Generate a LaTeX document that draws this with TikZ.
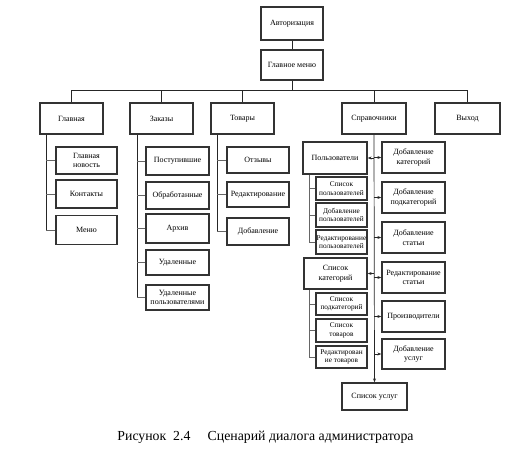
\documentclass[tikz,border=0pt]{standalone}
\usepackage{fontspec}
\setmainfont{Liberation Serif}
\usetikzlibrary{arrows.meta}
\begin{document}
\begin{tikzpicture}[x=1pt,y=-1pt,
  topbox/.style={draw=black!80, line width=1.8pt, fill=white, inner sep=1pt,
    align=center, font=\fontsize{8}{9.5}\selectfont},
  subbox/.style={draw=black!80, line width=1.3pt, fill=white, inner sep=0.5pt,
    align=center, font=\fontsize{8}{9.5}\selectfont},
  smallbox/.style={draw=black!80, line width=1.3pt, fill=white, inner sep=0pt,
    align=center, font=\fontsize{7.3}{8.5}\selectfont},
  link/.style={draw=black!85, line width=0.8pt},
  stub/.style={draw=black!60, line width=0.7pt},
  arr/.style={draw=black!85, line width=0.7pt, -{Stealth[length=4pt,width=3pt]}}
]
\useasboundingbox (0,0) rectangle (511,460);
\newcommand{\bx}[6]{\node[#1, minimum width=#4pt, minimum height=#5pt] (#2) at (#3) {#6};}

% top levels
\bx{topbox}{auth}{292,23.5}{62}{33}{Авторизация}
\bx{topbox}{menu}{292,65}{62}{30}{Главное меню}
\bx{topbox}{glav}{71.5,118.5}{63}{31}{Главная}
\bx{topbox}{zak}{161.5,118.5}{63}{31}{Заказы}
\bx{topbox}{tov}{242.5,118.5}{63}{31}{Товары}
\bx{topbox}{sprav}{374,118.5}{64}{31}{Справочники}
\bx{topbox}{vyh}{467.5,118.5}{65}{31}{Выход}

% Главная children
\bx{subbox}{gnew}{86.5,160.5}{61}{27}{Главная\\новость}
\bx{subbox}{kont}{86.5,194}{61}{28}{Контакты}
\bx{subbox}{mnu}{86.5,230}{61}{29}{Меню}

% Заказы children
\bx{subbox}{post}{177.5,161}{63}{28}{Поступившие}
\bx{subbox}{obr}{177.5,195.5}{63}{27}{Обработанные}
\bx{subbox}{arch}{177.5,228.5}{63}{29}{Архив}
\bx{subbox}{udal}{177.5,262.5}{63}{25}{Удаленные}
\bx{subbox}{udalp}{177.5,297.5}{63}{25}{Удаленные\\пользователями}

% Товары children
\bx{subbox}{otz}{258,160}{62}{26}{Отзывы}
\bx{subbox}{red}{258,194.5}{62}{25}{Редактирование}
\bx{subbox}{dob}{258,231.5}{62}{27}{Добавление}

% Справочники left column
\bx{subbox}{polz}{335,158}{64}{32}{Пользователи}
\bx{smallbox}{spolz}{341.5,188.5}{51}{23}{Список\\пользователей}
\bx{smallbox}{dpolz}{341.5,215}{51}{24}{Добавление\\пользователей}
\bx{smallbox}{rpolz}{341.5,242}{51}{24}{Редактирование\\пользователей}
\bx{subbox}{skat}{335.5,273.5}{63}{31}{Список\\категорий}
\bx{smallbox}{spod}{341.5,304}{51}{22}{Список\\подкатегорий}
\bx{smallbox}{stov}{341.5,330.5}{51}{23}{Список\\товаров}
\bx{smallbox}{rtov}{341.5,357}{51}{22}{Редактирован\\ие товаров}

% Справочники right column
\bx{subbox}{dkat}{413.5,157.5}{63}{31}{Добавление\\категорий}
\bx{subbox}{dpod}{413.5,197.5}{63}{31}{Добавление\\подкатегорий}
\bx{subbox}{dstat}{413.5,237.5}{63}{31}{Добавление\\статьи}
\bx{subbox}{rstat}{413.5,277.5}{63}{31}{Редактирование\\статьи}
\bx{subbox}{proizv}{413.5,316.5}{63}{31}{Производители}
\bx{subbox}{dusl}{413.5,354}{63}{30}{Добавление\\услуг}
\bx{subbox}{suslug}{374.5,396.5}{65}{27}{Список услуг}

% coordinates
\coordinate (busy) at (0,90);
\coordinate (tg) at (46,0);
\coordinate (tz) at (137,0);
\coordinate (tt) at (217,0);
\coordinate (tp) at (309,0);
\coordinate (ts) at (374,0);

% main links
\draw[link] (auth.south) -- (menu.north);
\draw[link] (menu.south) -- (menu.south |- busy);
\draw[link] (glav.north |- busy) -- (vyh.north |- busy);
\foreach \n in {glav,zak,tov,sprav,vyh}
  \draw[link] (\n.north |- busy) -- (\n.north);

% Главная
\draw[link] (glav.south -| tg) -- (mnu.west -| tg);
\foreach \n in {gnew,kont,mnu} \draw[stub] (\n.west -| tg) -- (\n.west);
% Заказы
\draw[link] (zak.south -| tz) -- (udalp.west -| tz);
\foreach \n in {post,obr,arch,udal,udalp} \draw[stub] (\n.west -| tz) -- (\n.west);
% Товары
\draw[link] (tov.south -| tt) -- (dob.west -| tt);
\foreach \n in {otz,red,dob} \draw[stub] (\n.west -| tt) -- (\n.west);
% Пользователи
\draw[stub] (polz.south -| tp) -- (rpolz.west -| tp);
\foreach \n in {spolz,dpolz,rpolz} \draw[stub] (\n.west -| tp) -- (\n.west);
% Список категорий
\draw[stub] (skat.south -| tp) -- (rtov.west -| tp);
\foreach \n in {spod,stov,rtov} \draw[stub] (\n.west -| tp) -- (\n.west);

% Справочники trunk
\draw[arr] (sprav.south) -- (suslug.north);
\draw[arr] (polz.east -| ts) -- (polz.east);
\draw[arr] (skat.east -| ts) -- (skat.east);
\foreach \n in {dkat,dpod,dstat,rstat,proizv,dusl}
  \draw[arr] (\n.west -| ts) -- (\n.west);

% caption
\node[font=\fontsize{13.8}{15}\selectfont, inner sep=0pt] (cap) at (265.5,437)
  {Рисунок\ \ 2.4\quad\ Сценарий диалога администратора};
\end{tikzpicture}
\end{document}
